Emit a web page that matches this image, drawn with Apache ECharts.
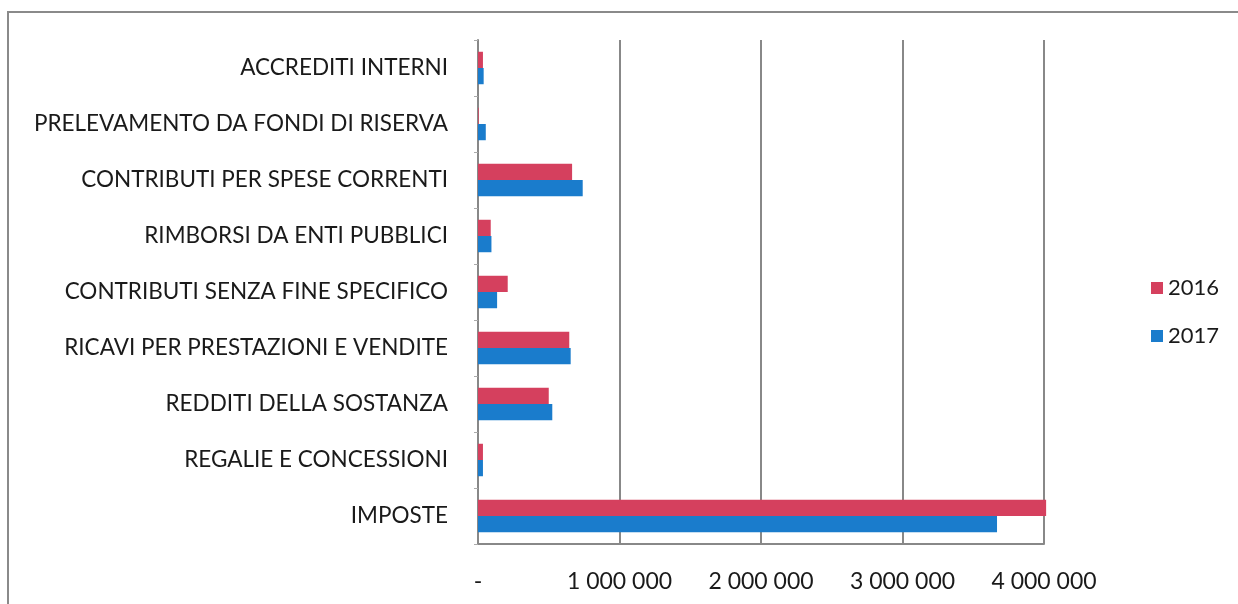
<!DOCTYPE html>
<html>
<head>
<meta charset="utf-8">
<script src="https://cdn.jsdelivr.net/npm/echarts@6/dist/echarts.min.js"></script>
<style>
  html, body { margin: 0; padding: 0; background: #fff; }
  #main { width: 1238px; height: 604px; }
</style>
</head>
<body>
<div id="main"></div>
<script>
// categories listed bottom to top
var categories = [
  "IMPOSTE",
  "REGALIE E CONCESSIONI",
  "REDDITI DELLA SOSTANZA",
  "RICAVI PER PRESTAZIONI E VENDITE",
  "CONTRIBUTI SENZA FINE SPECIFICO",
  "RIMBORSI DA ENTI PUBBLICI",
  "CONTRIBUTI PER SPESE CORRENTI",
  "PRELEVAMENTO DA FONDI DI RISERVA",
  "ACCREDITI INTERNI"
];
var values2016 = [4015000, 35000, 500000, 645000, 210000, 90000, 665000, 5000, 35000];
var values2017 = [3668000, 35000, 525000, 655000, 135000, 95000, 740000, 55000, 40000];
var xTicks = [0, 1000000, 2000000, 3000000, 4000000];

var font = "Lato, 'Open Sans', sans-serif";

function fmt(v) {
  if (v === 0) return "-";
  return String(v).replace(/\B(?=(\d{3})+(?!\d))/g, " ");
}

var chart = echarts.init(document.getElementById("main"), null, { renderer: "canvas" });

var option = {
  backgroundColor: "#fff",
  animation: false,
  color: ["#d5405e", "#1a7ccc"],
  graphic: [
    {
      type: "rect",
      shape: { x: 8, y: 12, width: 1240, height: 600 },
      style: { fill: "none", stroke: "#8a8a8a", lineWidth: 2 },
      silent: true
    }
  ],
  legend: {
    orient: "vertical",
    left: 1146,
    top: 272,
    itemWidth: 12,
    itemHeight: 12,
    itemGap: 26,
    icon: "rect",
    textStyle: { fontFamily: font, fontSize: 22, color: "#1a1a1a" },
    data: ["2016", "2017"]
  },
  grid: { left: 478, right: 194, top: 40, bottom: 60 },
  xAxis: {
    type: "value",
    min: xTicks[0],
    max: xTicks[xTicks.length - 1],
    interval: 1000000,
    axisLine: { show: true, lineStyle: { color: "#888", width: 2 } },
    axisTick: { show: false },
    splitLine: { show: true, lineStyle: { color: "#888", width: 2 } },
    axisLabel: {
      margin: 26,
      fontFamily: font,
      fontSize: 23,
      color: "#1a1a1a",
      formatter: fmt
    }
  },
  yAxis: {
    type: "category",
    data: categories,
    axisLine: { show: true, lineStyle: { color: "#888", width: 2 } },
    axisTick: { show: true, inside: false, length: 4, lineStyle: { color: "#aaa" } },
    axisLabel: { margin: 30, fontFamily: font, fontSize: 22.5, color: "#1a1a1a" }
  },
  series: [
    {
      name: "2016",
      type: "bar",
      data: values2016,
      barGap: "0%",
      barCategoryGap: "42%",
      clip: false
    },
    {
      name: "2017",
      type: "bar",
      data: values2017,
      barGap: "0%",
      barCategoryGap: "42%",
      clip: false
    }
  ]
};

chart.setOption(option);
</script>
</body>
</html>
